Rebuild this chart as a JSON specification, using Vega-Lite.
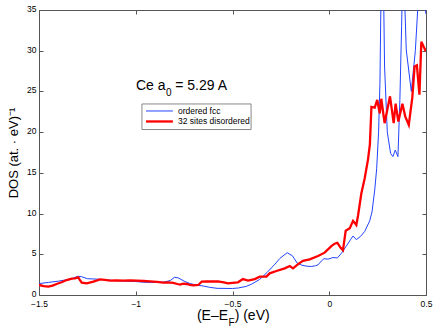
{
  "$schema": "https://vega.github.io/schema/vega-lite/v6.json",
  "width": 387,
  "height": 285,
  "autosize": {"type": "none"},
  "padding": {"left": 39, "top": 10, "right": 10, "bottom": 32},
  "config": {
    "view": {"stroke": null},
    "font": "Liberation Sans",
    "axis": {
      "grid": false,
      "domainColor": "#555",
      "tickColor": "#555",
      "tickSize": -4,
      "labelFlush": false,
      "labelOverlap": false,
      "labelFont": "Liberation Sans",
      "labelFontSize": 8.5,
      "labelColor": "black",
      "titleFont": "Liberation Sans",
      "titleFontWeight": "normal",
      "titleColor": "black"
    }
  },
  "datasets": {
    "dos": [
      {"series": "ordered fcc", "x": -1.5, "y": 1.4},
      {"series": "ordered fcc", "x": -1.45, "y": 1.55},
      {"series": "ordered fcc", "x": -1.4, "y": 1.7},
      {"series": "ordered fcc", "x": -1.35, "y": 1.9},
      {"series": "ordered fcc", "x": -1.32, "y": 2.1},
      {"series": "ordered fcc", "x": -1.3, "y": 2.3},
      {"series": "ordered fcc", "x": -1.28, "y": 2.25},
      {"series": "ordered fcc", "x": -1.25, "y": 2.0},
      {"series": "ordered fcc", "x": -1.2, "y": 1.95},
      {"series": "ordered fcc", "x": -1.15, "y": 1.85},
      {"series": "ordered fcc", "x": -1.1, "y": 1.75},
      {"series": "ordered fcc", "x": -1.05, "y": 1.7},
      {"series": "ordered fcc", "x": -1.0, "y": 1.65},
      {"series": "ordered fcc", "x": -0.95, "y": 1.55},
      {"series": "ordered fcc", "x": -0.9, "y": 1.55},
      {"series": "ordered fcc", "x": -0.85, "y": 1.6},
      {"series": "ordered fcc", "x": -0.82, "y": 1.8},
      {"series": "ordered fcc", "x": -0.8, "y": 2.17},
      {"series": "ordered fcc", "x": -0.78, "y": 2.1},
      {"series": "ordered fcc", "x": -0.75, "y": 1.7},
      {"series": "ordered fcc", "x": -0.72, "y": 1.4},
      {"series": "ordered fcc", "x": -0.68, "y": 1.2},
      {"series": "ordered fcc", "x": -0.65, "y": 1.1},
      {"series": "ordered fcc", "x": -0.62, "y": 0.95},
      {"series": "ordered fcc", "x": -0.58, "y": 0.82},
      {"series": "ordered fcc", "x": -0.5, "y": 0.8},
      {"series": "ordered fcc", "x": -0.47, "y": 0.86},
      {"series": "ordered fcc", "x": -0.43, "y": 1.05},
      {"series": "ordered fcc", "x": -0.4, "y": 1.35},
      {"series": "ordered fcc", "x": -0.36, "y": 1.9},
      {"series": "ordered fcc", "x": -0.32, "y": 2.8},
      {"series": "ordered fcc", "x": -0.28, "y": 3.8},
      {"series": "ordered fcc", "x": -0.255, "y": 4.5},
      {"series": "ordered fcc", "x": -0.217, "y": 5.2},
      {"series": "ordered fcc", "x": -0.19, "y": 4.8},
      {"series": "ordered fcc", "x": -0.165, "y": 3.9},
      {"series": "ordered fcc", "x": -0.144, "y": 3.68},
      {"series": "ordered fcc", "x": -0.12, "y": 3.55},
      {"series": "ordered fcc", "x": -0.093, "y": 3.5},
      {"series": "ordered fcc", "x": -0.07, "y": 3.6},
      {"series": "ordered fcc", "x": -0.058, "y": 3.7},
      {"series": "ordered fcc", "x": -0.04, "y": 4.2},
      {"series": "ordered fcc", "x": -0.027, "y": 4.46},
      {"series": "ordered fcc", "x": -0.006, "y": 4.4},
      {"series": "ordered fcc", "x": 0.019, "y": 4.6},
      {"series": "ordered fcc", "x": 0.042, "y": 4.55},
      {"series": "ordered fcc", "x": 0.062, "y": 5.1},
      {"series": "ordered fcc", "x": 0.088, "y": 6.0},
      {"series": "ordered fcc", "x": 0.11, "y": 6.8},
      {"series": "ordered fcc", "x": 0.123, "y": 7.25},
      {"series": "ordered fcc", "x": 0.14, "y": 6.8},
      {"series": "ordered fcc", "x": 0.162, "y": 7.2},
      {"series": "ordered fcc", "x": 0.183, "y": 7.8},
      {"series": "ordered fcc", "x": 0.209, "y": 9.1},
      {"series": "ordered fcc", "x": 0.221, "y": 10.2},
      {"series": "ordered fcc", "x": 0.235, "y": 12.9},
      {"series": "ordered fcc", "x": 0.245, "y": 15.5},
      {"series": "ordered fcc", "x": 0.255, "y": 20},
      {"series": "ordered fcc", "x": 0.262, "y": 26},
      {"series": "ordered fcc", "x": 0.27, "y": 42},
      {"series": "ordered fcc", "x": 0.278, "y": 42},
      {"series": "ordered fcc", "x": 0.286, "y": 28},
      {"series": "ordered fcc", "x": 0.3, "y": 20},
      {"series": "ordered fcc", "x": 0.317, "y": 17.4},
      {"series": "ordered fcc", "x": 0.329, "y": 17.0},
      {"series": "ordered fcc", "x": 0.341, "y": 17.8},
      {"series": "ordered fcc", "x": 0.355, "y": 17.0},
      {"series": "ordered fcc", "x": 0.365, "y": 24},
      {"series": "ordered fcc", "x": 0.374, "y": 33},
      {"series": "ordered fcc", "x": 0.381, "y": 42},
      {"series": "ordered fcc", "x": 0.39, "y": 36},
      {"series": "ordered fcc", "x": 0.398, "y": 30.1},
      {"series": "ordered fcc", "x": 0.424, "y": 25.0},
      {"series": "ordered fcc", "x": 0.445, "y": 30},
      {"series": "ordered fcc", "x": 0.469, "y": 40},
      {"series": "ordered fcc", "x": 0.48, "y": 38},
      {"series": "ordered fcc", "x": 0.49, "y": 36},
      {"series": "ordered fcc", "x": 0.5, "y": 34.5},
      {"series": "32 sites disordered", "x": -1.5, "y": 1.23},
      {"series": "32 sites disordered", "x": -1.475, "y": 1.1},
      {"series": "32 sites disordered", "x": -1.452, "y": 1.02},
      {"series": "32 sites disordered", "x": -1.43, "y": 1.15},
      {"series": "32 sites disordered", "x": -1.409, "y": 1.35},
      {"series": "32 sites disordered", "x": -1.38, "y": 1.6},
      {"series": "32 sites disordered", "x": -1.357, "y": 1.84},
      {"series": "32 sites disordered", "x": -1.33, "y": 2.0},
      {"series": "32 sites disordered", "x": -1.314, "y": 2.05},
      {"series": "32 sites disordered", "x": -1.297, "y": 2.17},
      {"series": "32 sites disordered", "x": -1.29, "y": 1.9},
      {"series": "32 sites disordered", "x": -1.279, "y": 1.51},
      {"series": "32 sites disordered", "x": -1.253, "y": 1.43},
      {"series": "32 sites disordered", "x": -1.219, "y": 1.64},
      {"series": "32 sites disordered", "x": -1.185, "y": 1.92},
      {"series": "32 sites disordered", "x": -1.16, "y": 1.85},
      {"series": "32 sites disordered", "x": -1.133, "y": 1.76},
      {"series": "32 sites disordered", "x": -1.1, "y": 1.8},
      {"series": "32 sites disordered", "x": -1.064, "y": 1.76},
      {"series": "32 sites disordered", "x": -1.03, "y": 1.78},
      {"series": "32 sites disordered", "x": -0.995, "y": 1.76},
      {"series": "32 sites disordered", "x": -0.96, "y": 1.72},
      {"series": "32 sites disordered", "x": -0.926, "y": 1.68},
      {"series": "32 sites disordered", "x": -0.89, "y": 1.6},
      {"series": "32 sites disordered", "x": -0.858, "y": 1.51},
      {"series": "32 sites disordered", "x": -0.83, "y": 1.55},
      {"series": "32 sites disordered", "x": -0.806, "y": 1.5},
      {"series": "32 sites disordered", "x": -0.785, "y": 1.35},
      {"series": "32 sites disordered", "x": -0.771, "y": 1.27},
      {"series": "32 sites disordered", "x": -0.755, "y": 1.4},
      {"series": "32 sites disordered", "x": -0.737, "y": 1.35},
      {"series": "32 sites disordered", "x": -0.72, "y": 1.25},
      {"series": "32 sites disordered", "x": -0.703, "y": 1.19},
      {"series": "32 sites disordered", "x": -0.677, "y": 1.23},
      {"series": "32 sites disordered", "x": -0.665, "y": 1.5},
      {"series": "32 sites disordered", "x": -0.659, "y": 1.64},
      {"series": "32 sites disordered", "x": -0.633, "y": 1.68},
      {"series": "32 sites disordered", "x": -0.6, "y": 1.66},
      {"series": "32 sites disordered", "x": -0.575, "y": 1.68},
      {"series": "32 sites disordered", "x": -0.545, "y": 1.55},
      {"series": "32 sites disordered", "x": -0.523, "y": 1.43},
      {"series": "32 sites disordered", "x": -0.5, "y": 1.5},
      {"series": "32 sites disordered", "x": -0.472, "y": 1.56},
      {"series": "32 sites disordered", "x": -0.446, "y": 1.96},
      {"series": "32 sites disordered", "x": -0.42, "y": 1.76},
      {"series": "32 sites disordered", "x": -0.385, "y": 1.96},
      {"series": "32 sites disordered", "x": -0.359, "y": 2.25},
      {"series": "32 sites disordered", "x": -0.325, "y": 2.25},
      {"series": "32 sites disordered", "x": -0.308, "y": 2.66},
      {"series": "32 sites disordered", "x": -0.273, "y": 2.95},
      {"series": "32 sites disordered", "x": -0.23, "y": 3.27},
      {"series": "32 sites disordered", "x": -0.204, "y": 3.56},
      {"series": "32 sites disordered", "x": -0.187, "y": 3.27},
      {"series": "32 sites disordered", "x": -0.161, "y": 3.8},
      {"series": "32 sites disordered", "x": -0.136, "y": 4.2},
      {"series": "32 sites disordered", "x": -0.101, "y": 4.37},
      {"series": "32 sites disordered", "x": -0.058, "y": 4.79},
      {"series": "32 sites disordered", "x": -0.024, "y": 5.2},
      {"series": "32 sites disordered", "x": 0.011, "y": 6.0},
      {"series": "32 sites disordered", "x": 0.028, "y": 6.3},
      {"series": "32 sites disordered", "x": 0.042, "y": 6.4},
      {"series": "32 sites disordered", "x": 0.059, "y": 5.8},
      {"series": "32 sites disordered", "x": 0.071, "y": 5.5},
      {"series": "32 sites disordered", "x": 0.085, "y": 7.9},
      {"series": "32 sites disordered", "x": 0.106, "y": 8.2},
      {"series": "32 sites disordered", "x": 0.123, "y": 9.1},
      {"series": "32 sites disordered", "x": 0.14, "y": 8.6},
      {"series": "32 sites disordered", "x": 0.149, "y": 9.8},
      {"series": "32 sites disordered", "x": 0.166, "y": 12.5},
      {"series": "32 sites disordered", "x": 0.183, "y": 14.3},
      {"series": "32 sites disordered", "x": 0.2, "y": 16.6},
      {"series": "32 sites disordered", "x": 0.21, "y": 18.5},
      {"series": "32 sites disordered", "x": 0.218, "y": 23.1},
      {"series": "32 sites disordered", "x": 0.235, "y": 23.0},
      {"series": "32 sites disordered", "x": 0.248, "y": 23.95},
      {"series": "32 sites disordered", "x": 0.261, "y": 22.3},
      {"series": "32 sites disordered", "x": 0.269, "y": 24.1},
      {"series": "32 sites disordered", "x": 0.286, "y": 21.1},
      {"series": "32 sites disordered", "x": 0.314, "y": 24.4},
      {"series": "32 sites disordered", "x": 0.333, "y": 21.1},
      {"series": "32 sites disordered", "x": 0.343, "y": 23.5},
      {"series": "32 sites disordered", "x": 0.357, "y": 21.3},
      {"series": "32 sites disordered", "x": 0.378, "y": 23.5},
      {"series": "32 sites disordered", "x": 0.393, "y": 21.9},
      {"series": "32 sites disordered", "x": 0.411, "y": 20.9},
      {"series": "32 sites disordered", "x": 0.429, "y": 24.2},
      {"series": "32 sites disordered", "x": 0.441, "y": 28.05},
      {"series": "32 sites disordered", "x": 0.453, "y": 28.2},
      {"series": "32 sites disordered", "x": 0.466, "y": 24.6},
      {"series": "32 sites disordered", "x": 0.476, "y": 31.1},
      {"series": "32 sites disordered", "x": 0.488, "y": 30.5},
      {"series": "32 sites disordered", "x": 0.5, "y": 29.9}
    ]
  },
  "data": {"name": "dos"},
  "layer": [
    {
      "transform": [{"filter": "datum.series === 'ordered fcc'"}],
      "mark": {"type": "line", "color": "#2244ff", "strokeWidth": 1, "clip": true},
      "encoding": {
        "x": {"field": "x", "type": "quantitative",
          "scale": {"domain": [-1.5, 0.5], "nice": false, "zero": false},
          "axis": {"orient": "bottom", "values": [-1.5, -1, -0.5, 0, 0.5], "format": "~g", "title": null, "labelPadding": 8}},
        "y": {"field": "y", "type": "quantitative",
          "scale": {"domain": [0, 35], "nice": false, "zero": false},
          "axis": {"orient": "left", "values": [0, 5, 10, 15, 20, 25, 30, 35], "title": "DOS (at. · eV)⁻¹", "titleFontSize": 13, "labelPadding": 7, "labelOffset": -1.5, "titlePadding": 6}}
      }
    },
    {
      "transform": [{"filter": "datum.series === '32 sites disordered'"}],
      "mark": {"type": "line", "color": "#ff0000", "strokeWidth": 2.3, "clip": true},
      "encoding": {
        "x": {"field": "x", "type": "quantitative",
          "axis": {"orient": "top", "values": [-1.5, -1, -0.5, 0, 0.5], "labels": false, "title": null}},
        "y": {"field": "y", "type": "quantitative",
          "axis": {"orient": "right", "values": [0, 5, 10, 15, 20, 25, 30, 35], "labels": false, "title": null}}
      }
    },
    {
      "data": {"values": [{}]},
      "mark": {"type": "rect", "fill": "white", "stroke": "#888", "strokeWidth": 1},
      "encoding": {
        "x": {"datum": -0.968, "type": "quantitative", "axis": null},
        "x2": {"datum": -0.404},
        "y": {"datum": 23.46, "type": "quantitative", "axis": null},
        "y2": {"datum": 20.32}
      }
    },
    {
      "data": {"values": [{}]},
      "mark": {"type": "rule", "color": "#2244ff", "strokeWidth": 1},
      "encoding": {
        "x": {"datum": -0.947, "type": "quantitative", "axis": null},
        "x2": {"datum": -0.808},
        "y": {"datum": 22.6, "type": "quantitative", "axis": null}
      }
    },
    {
      "data": {"values": [{}]},
      "mark": {"type": "rule", "color": "#ff0000", "strokeWidth": 2.3},
      "encoding": {
        "x": {"datum": -0.947, "type": "quantitative", "axis": null},
        "x2": {"datum": -0.808},
        "y": {"datum": 21.31, "type": "quantitative", "axis": null}
      }
    },
    {
      "data": {"values": [{}]},
      "mark": {"type": "text", "text": "ordered fcc", "fontSize": 8.5, "align": "left", "baseline": "middle", "color": "black"},
      "encoding": {
        "x": {"datum": -0.782, "type": "quantitative", "axis": null},
        "y": {"datum": 22.6, "type": "quantitative", "axis": null}
      }
    },
    {
      "data": {"values": [{}]},
      "mark": {"type": "text", "text": "32 sites disordered", "fontSize": 8.5, "align": "left", "baseline": "middle", "color": "black"},
      "encoding": {
        "x": {"datum": -0.782, "type": "quantitative", "axis": null},
        "y": {"datum": 21.31, "type": "quantitative", "axis": null}
      }
    },
    {
      "data": {"values": [{}]},
      "mark": {"type": "text", "text": "Ce a", "fontSize": 14, "align": "left", "baseline": "alphabetic", "color": "black"},
      "encoding": {
        "x": {"datum": -0.999, "type": "quantitative", "axis": null},
        "y": {"datum": 25.2, "type": "quantitative", "axis": null}
      }
    },
    {
      "data": {"values": [{}]},
      "mark": {"type": "text", "text": "0", "fontSize": 10, "align": "left", "baseline": "alphabetic", "color": "black"},
      "encoding": {
        "x": {"datum": -0.844, "type": "quantitative", "axis": null},
        "y": {"datum": 24.5, "type": "quantitative", "axis": null}
      }
    },
    {
      "data": {"values": [{}]},
      "mark": {"type": "text", "text": "= 5.29 A", "fontSize": 14, "align": "left", "baseline": "alphabetic", "color": "black"},
      "encoding": {
        "x": {"datum": -0.796, "type": "quantitative", "axis": null},
        "y": {"datum": 25.2, "type": "quantitative", "axis": null}
      }
    },
    {
      "data": {"values": [{}]},
      "mark": {"type": "text", "text": "(E–E", "fontSize": 14, "align": "right", "baseline": "alphabetic", "color": "black"},
      "encoding": {
        "x": {"datum": -0.523, "type": "quantitative", "axis": null},
        "y": {"datum": -3.05, "type": "quantitative", "axis": null}
      }
    },
    {
      "data": {"values": [{}]},
      "mark": {"type": "text", "text": "F", "fontSize": 10, "align": "left", "baseline": "alphabetic", "color": "black"},
      "encoding": {
        "x": {"datum": -0.521, "type": "quantitative", "axis": null},
        "y": {"datum": -3.75, "type": "quantitative", "axis": null}
      }
    },
    {
      "data": {"values": [{}]},
      "mark": {"type": "text", "text": ") (eV)", "fontSize": 14, "align": "left", "baseline": "alphabetic", "color": "black"},
      "encoding": {
        "x": {"datum": -0.489, "type": "quantitative", "axis": null},
        "y": {"datum": -3.05, "type": "quantitative", "axis": null}
      }
    }
  ],
  "resolve": {"axis": {"x": "independent", "y": "independent"}}
}
